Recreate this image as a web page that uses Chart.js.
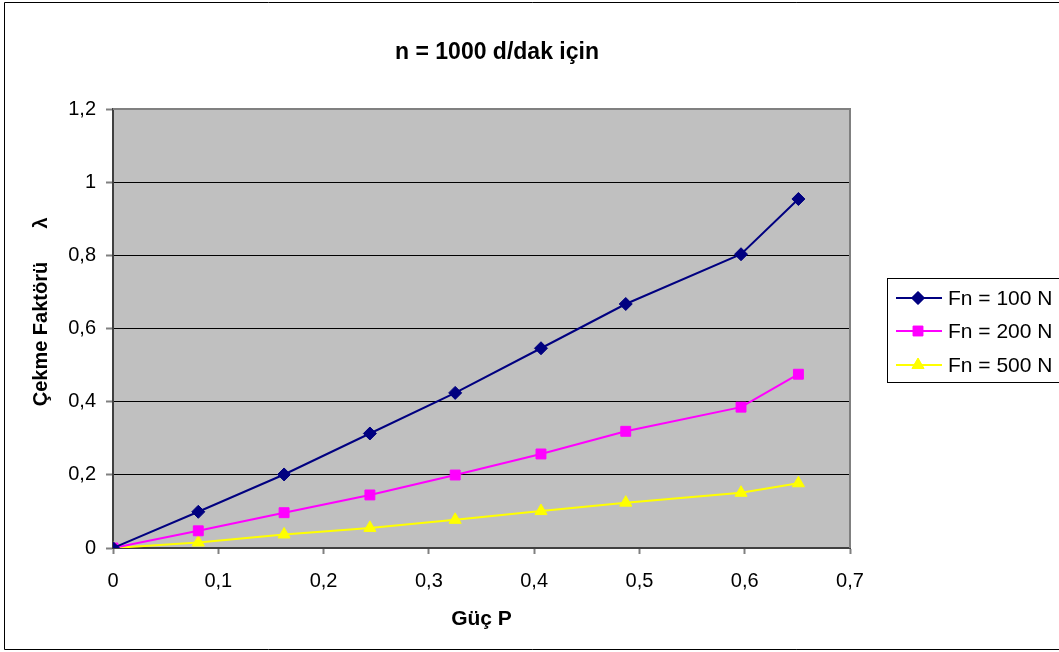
<!DOCTYPE html>
<html>
<head>
<meta charset="utf-8">
<script src="https://cdn.jsdelivr.net/npm/chart.js@4/dist/chart.umd.min.js"></script>
<style>
  html, body { margin: 0; padding: 0; background: #ffffff; }
  #wrap { width: 1059px; height: 652px; position: relative; }
</style>
</head>
<body>
<div id="wrap"><canvas id="c" width="1059" height="652"></canvas></div>
<script>
const chartTitle = 'n = 1000 d/dak için';
const xTitle = 'Güç P';
const yTitle = '      Çekme Faktörü      λ';
const seriesNames = ['Fn = 100 N', 'Fn = 200 N', 'Fn = 500 N'];
const powerP = [0, 0.081, 0.1625, 0.244, 0.325, 0.4065, 0.487, 0.5965, 0.651];
const fn100 = [0, 0.099, 0.201, 0.313, 0.424, 0.546, 0.667, 0.803, 0.954];
const fn200 = [0, 0.047, 0.0965, 0.145, 0.1995, 0.257, 0.319, 0.385, 0.475];
const fn500 = [0, 0.015, 0.037, 0.055, 0.077, 0.101, 0.124, 0.151, 0.177];
const xTicks = [0, 0.1, 0.2, 0.3, 0.4, 0.5, 0.6, 0.7];
const yTicks = [0, 0.2, 0.4, 0.6, 0.8, 1, 1.2];

const colors = ['#000080', '#FF00FF', '#FFFF00'];
const shapes = ['rectRot', 'rect', 'triangle'];
const radii = [6.5, 7, 7];
const FONT = "'Liberation Sans', Arial, sans-serif";
Chart.defaults.font.family = FONT;
Chart.defaults.color = '#000000';

function fmt(v) {
  return String(Number(v.toFixed(2))).replace('.', ',');
}
function toPts(xs, ys) { return xs.map((x, i) => ({x: x, y: ys[i]})); }

const allSeries = [fn100, fn200, fn500];
const datasets = allSeries.map((s, i) => ({
  label: seriesNames[i],
  data: toPts(powerP, s),
  showLine: true,
  borderColor: colors[i],
  backgroundColor: colors[i],
  pointBackgroundColor: colors[i],
  pointBorderColor: colors[i],
  pointStyle: shapes[i],
  pointRadius: radii[i],
  pointBorderWidth: 1,
  borderWidth: 2,
  tension: 0
}));

const decor = {
  id: 'decor',
  beforeDraw(chart) {
    const ctx = chart.ctx, a = chart.chartArea;
    ctx.save();
    ctx.fillStyle = '#FFFFFF';
    ctx.fillRect(0, 0, chart.width, chart.height);
    ctx.fillStyle = '#C0C0C0';
    ctx.fillRect(a.left, a.top, a.right - a.left, a.bottom - a.top);
    ctx.restore();
  },
  beforeDatasetsDraw(chart) {
    const ctx = chart.ctx, a = chart.chartArea;
    ctx.save();
    ctx.strokeStyle = '#808080';
    ctx.lineWidth = 2;
    ctx.beginPath();
    ctx.moveTo(a.left, a.top); ctx.lineTo(a.right, a.top); ctx.lineTo(a.right, a.bottom);
    ctx.stroke();
    ctx.restore();
  },
  afterDraw(chart) {
    const ctx = chart.ctx;
    ctx.save();
    // outer frame
    ctx.strokeStyle = '#000000';
    ctx.lineWidth = 1;
    ctx.beginPath();
    ctx.moveTo(1062, 2.5); ctx.lineTo(4.5, 2.5); ctx.lineTo(4.5, 649.5); ctx.lineTo(1062, 649.5);
    ctx.stroke();
    // title
    ctx.fillStyle = '#000000';
    ctx.font = 'bold 23px ' + FONT;
    ctx.textAlign = 'center';
    ctx.textBaseline = 'middle';
    ctx.fillText(chartTitle, 497, 53);
    // legend
    const lx = 887.5, ly = 278.5, lw = 175, lh = 104;
    ctx.fillStyle = '#FFFFFF';
    ctx.fillRect(lx, ly, lw, lh);
    ctx.strokeStyle = '#000000';
    ctx.lineWidth = 1;
    ctx.strokeRect(lx, ly, lw, lh);
    const rows = [298, 331, 365];
    ctx.font = '21px ' + FONT;
    ctx.textAlign = 'left';
    ctx.textBaseline = 'middle';
    rows.forEach((y, i) => {
      ctx.strokeStyle = colors[i];
      ctx.lineWidth = 2;
      ctx.beginPath();
      ctx.moveTo(896, y); ctx.lineTo(942, y);
      ctx.stroke();
      ctx.fillStyle = colors[i];
      ctx.lineWidth = 1;
      Chart.helpers.drawPoint(ctx, {pointStyle: shapes[i], radius: radii[i], borderWidth: 1, rotation: 0}, 918, y);
      ctx.fill();
      ctx.fillStyle = '#000000';
      ctx.fillText(seriesNames[i], 948, y + 1);
    });
    ctx.restore();
  }
};

new Chart(document.getElementById('c'), {
  type: 'scatter',
  data: { datasets: datasets },
  plugins: [decor],
  options: {
    responsive: false,
    animation: false,
    layout: { padding: { top: 109, right: 209, left: 0, bottom: 0 } },
    plugins: { legend: { display: false }, title: { display: false }, tooltip: { enabled: false } },
    scales: {
      x: {
        type: 'linear',
        min: 0, max: 0.7,
        afterFit(s) { s.height = 104; },
        afterBuildTicks(s) { s.ticks = xTicks.map(v => ({value: v})); },
        ticks: { callback: v => fmt(v), font: { size: 20 }, padding: 15, maxRotation: 0, color: '#000' },
        grid: { drawOnChartArea: false, tickLength: 6, tickColor: '#808080', tickWidth: 2 },
        border: { display: true, color: '#404040', width: 2 },
        title: { display: true, text: xTitle, font: { size: 21, weight: 'bold' }, padding: { top: 0, bottom: 20 } }
      },
      y: {
        type: 'linear',
        min: 0, max: 1.2,
        afterFit(s) { s.width = 113; },
        afterBuildTicks(s) { s.ticks = yTicks.map(v => ({value: v})); },
        ticks: { callback: v => fmt(v), font: { size: 20 }, padding: 10, color: '#000' },
        grid: {
          color: ctx => (ctx.tick && (ctx.tick.value === 0 || ctx.tick.value === 1.2)) ? 'rgba(0,0,0,0)' : '#000000',
          lineWidth: 1, tickLength: 7, tickColor: '#808080', tickWidth: 2
        },
        border: { display: true, color: '#404040', width: 2 },
        title: { display: true, text: yTitle, font: { size: 20, weight: 'bold' }, padding: { top: 29, bottom: 0 } }
      }
    }
  }
});
</script>
</body>
</html>
